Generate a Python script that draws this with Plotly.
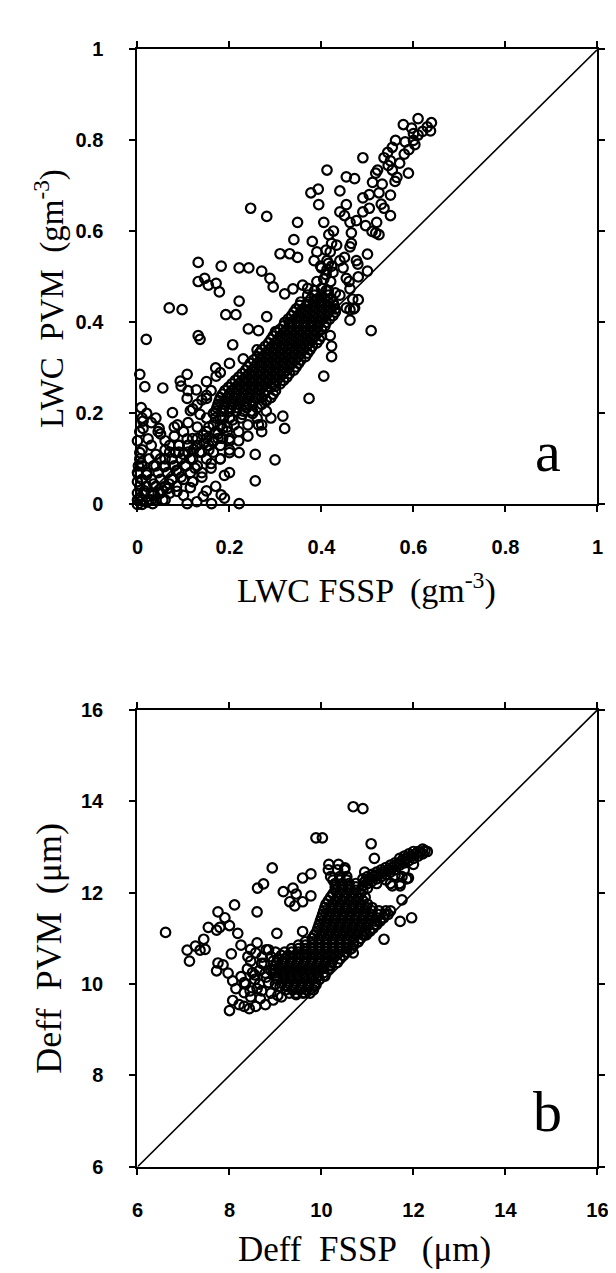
import plotly.graph_objects as go

W, H = 616, 1273

# ---------------- panel a : LWC (g m-3) ----------------
# dense core, one row per y level (two interleaved lattices)
a_core_y = [0.46, 0.445, 0.43, 0.415, 0.40, 0.385, 0.37, 0.355, 0.34, 0.325, 0.31,
            0.295, 0.28, 0.265, 0.25, 0.235, 0.22, 0.205, 0.19, 0.175, 0.16, 0.145,
            0.13, 0.115, 0.10, 0.085, 0.07, 0.055, 0.04, 0.025, 0.01,
            0.4525, 0.4375, 0.4225, 0.4075, 0.3925, 0.3775, 0.3625, 0.3475, 0.3325,
            0.3175, 0.3025, 0.2875, 0.2725, 0.2575, 0.2425, 0.2275, 0.2125]
a_core_x = [
    [0.37, 0.385, 0.40, 0.415],
    [0.355, 0.37, 0.385, 0.40, 0.415, 0.425],
    [0.345, 0.36, 0.375, 0.39, 0.405, 0.42, 0.43],
    [0.335, 0.35, 0.365, 0.38, 0.395, 0.41, 0.425],
    [0.32, 0.335, 0.35, 0.365, 0.38, 0.395, 0.41],
    [0.31, 0.325, 0.34, 0.355, 0.37, 0.385, 0.40],
    [0.295, 0.31, 0.325, 0.34, 0.355, 0.37, 0.385, 0.40],
    [0.285, 0.30, 0.315, 0.33, 0.345, 0.36, 0.375, 0.39],
    [0.27, 0.285, 0.30, 0.315, 0.33, 0.345, 0.36, 0.375],
    [0.26, 0.275, 0.29, 0.305, 0.32, 0.335, 0.35, 0.365],
    [0.245, 0.26, 0.275, 0.29, 0.305, 0.32, 0.335, 0.35],
    [0.235, 0.25, 0.265, 0.28, 0.295, 0.31, 0.325, 0.34],
    [0.22, 0.235, 0.25, 0.265, 0.28, 0.295, 0.31, 0.325],
    [0.205, 0.22, 0.235, 0.25, 0.265, 0.28, 0.295, 0.31],
    [0.19, 0.205, 0.22, 0.235, 0.25, 0.265, 0.28, 0.30],
    [0.18, 0.195, 0.21, 0.225, 0.24, 0.255, 0.27, 0.29],
    [0.175, 0.19, 0.205, 0.22, 0.235, 0.25, 0.27],
    [0.17, 0.185, 0.20, 0.215, 0.23, 0.25, 0.28],
    [0.17, 0.185, 0.20, 0.225, 0.26, 0.29],
    [0.165, 0.18, 0.21, 0.24, 0.27],
    [0.15, 0.17, 0.195, 0.22],
    [0.13, 0.15, 0.175, 0.20],
    [0.09, 0.11, 0.13, 0.155, 0.18],
    [0.07, 0.09, 0.11, 0.14, 0.165],
    [0.05, 0.075, 0.095, 0.12, 0.15],
    [0.035, 0.06, 0.08, 0.105, 0.13],
    [0.02, 0.045, 0.065, 0.09, 0.115],
    [0.01, 0.03, 0.05, 0.075, 0.10],
    [0.005, 0.02, 0.04, 0.06, 0.085],
    [0.0, 0.015, 0.03, 0.05, 0.07],
    [0.0, 0.01, 0.025, 0.04, 0.06],
    [0.3775, 0.3925, 0.4075, 0.42],
    [0.3525, 0.3675, 0.3825, 0.3975, 0.4125, 0.4275],
    [0.34, 0.355, 0.37, 0.385, 0.40, 0.415, 0.43],
    [0.3275, 0.3425, 0.3575, 0.3725, 0.3875, 0.4025, 0.4175],
    [0.3175, 0.3325, 0.3475, 0.3625, 0.3775, 0.3925, 0.4075],
    [0.3025, 0.3175, 0.3325, 0.3475, 0.3625, 0.3775, 0.3925],
    [0.29, 0.305, 0.32, 0.335, 0.35, 0.365, 0.38, 0.395],
    [0.2775, 0.2925, 0.3075, 0.3225, 0.3375, 0.3525, 0.3675, 0.38],
    [0.265, 0.28, 0.295, 0.31, 0.325, 0.34, 0.355, 0.37],
    [0.2525, 0.2675, 0.2825, 0.2975, 0.3125, 0.3275, 0.3425, 0.355],
    [0.24, 0.255, 0.27, 0.285, 0.30, 0.315, 0.33, 0.345],
    [0.2275, 0.2425, 0.2575, 0.2725, 0.2875, 0.3025, 0.3175, 0.33],
    [0.2125, 0.2275, 0.2425, 0.2575, 0.2725, 0.2875, 0.3025, 0.3175],
    [0.1975, 0.2125, 0.2275, 0.2425, 0.2575, 0.2725, 0.29],
    [0.185, 0.20, 0.215, 0.23, 0.245, 0.26, 0.275, 0.295],
    [0.1775, 0.1925, 0.2075, 0.2225, 0.2375, 0.2525, 0.28],
    [0.1725, 0.1875, 0.2025, 0.2175, 0.2375, 0.26],
]
# scattered points around the core
a_pts_x = [0.639, 0.610, 0.578, 0.596, 0.637, 0.610, 0.603, 0.582, 0.561, 0.554, 0.544,
           0.536, 0.522, 0.518, 0.532, 0.511, 0.525, 0.504, 0.490, 0.554, 0.589, 0.564,
           0.536, 0.550, 0.504, 0.490, 0.476, 0.496, 0.518, 0.525, 0.465, 0.462, 0.450,
           0.440, 0.454, 0.440, 0.454, 0.472, 0.490, 0.412, 0.377, 0.393, 0.394, 0.405,
           0.380, 0.416, 0.426, 0.422, 0.433, 0.410, 0.419, 0.390, 0.384, 0.412, 0.398,
           0.412, 0.422, 0.440, 0.450, 0.462, 0.465, 0.447, 0.454, 0.476, 0.479, 0.500,
           0.462, 0.468, 0.454, 0.462, 0.472, 0.462, 0.508, 0.348, 0.340, 0.310, 0.331,
           0.348, 0.246, 0.281, 0.132, 0.182, 0.221, 0.242, 0.270, 0.288, 0.132, 0.146,
           0.154, 0.171, 0.178, 0.295, 0.320, 0.338, 0.359, 0.221, 0.192, 0.214, 0.281,
           0.069, 0.097, 0.019, 0.132, 0.136, 0.207, 0.241, 0.263, 0.005, 0.016, 0.055,
           0.093, 0.108, 0.008, 0.012, 0.040, 0.012, 0.005, 0.008, 0.001, 0.023, 0.047,
           0.076, 0.087, 0.108, 0.115, 0.128, 0.136, 0.150, 0.171, 0.058, 0.083, 0.108,
           0.122, 0.143, 0.164, 0.185, 0.207, 0.228, 0.200, 0.221, 0.189, 0.256, 0.256,
           0.299, 0.373, 0.405, 0.422, 0.422, 0.419, 0.320, 0.316, 0.270, 0.263, 0.047,
           0.083, 0.108, 0.129, 0.143, 0.161, 0.182, 0.189, 0.193, 0.221, 0.115, 0.086,
           0.069, 0.033, 0.005, 0.002, 0.010, 0.000, 0.005, 0.010, 0.020, 0.030, 0.045,
           0.060, 0.030, 0.040, 0.060, 0.080, 0.090, 0.035, 0.055, 0.100, 0.120, 0.140,
           0.160, 0.180, 0.200, 0.110, 0.130, 0.150, 0.170, 0.095, 0.155,
           # near the origin and lower tail
           0.000, 0.010, 0.020, 0.005, 0.015, 0.030, 0.000, 0.000, 0.010, 0.020, 0.035,
           0.045, 0.055, 0.065, 0.075, 0.085, 0.095, 0.105, 0.115, 0.125, 0.135, 0.145,
           0.155, 0.165, 0.175, 0.185, 0.195, 0.060, 0.070, 0.050, 0.080, 0.100, 0.120,
           0.025, 0.040, 0.100, 0.110, 0.130, 0.150, 0.165, 0.180, 0.120, 0.140, 0.160,
           0.180, 0.200, 0.220, 0.240, 0.200, 0.170, 0.150,
           # upper streak and cap above the core
           0.470, 0.480, 0.460, 0.480, 0.500, 0.510, 0.520, 0.530, 0.550, 0.560, 0.570,
           0.580, 0.590, 0.600, 0.620, 0.630, 0.550, 0.545, 0.600, 0.370, 0.385, 0.400,
           0.415, 0.430, 0.390, 0.405, 0.420, 0.410, 0.425, 0.400, 0.415,
           # flanks of the band
           0.120, 0.140, 0.160, 0.110, 0.150, 0.180, 0.200, 0.230, 0.260, 0.300, 0.330,
           0.360, 0.390, 0.410, 0.440, 0.300, 0.280, 0.250]
a_pts_y = [0.839, 0.848, 0.835, 0.827, 0.821, 0.812, 0.791, 0.797, 0.800, 0.785, 0.774,
           0.762, 0.735, 0.728, 0.704, 0.708, 0.685, 0.681, 0.762, 0.735, 0.728, 0.719,
           0.651, 0.635, 0.651, 0.643, 0.624, 0.613, 0.597, 0.593, 0.597, 0.620, 0.635,
           0.643, 0.659, 0.689, 0.720, 0.716, 0.674, 0.735, 0.685, 0.693, 0.659, 0.620,
           0.578, 0.593, 0.601, 0.574, 0.570, 0.559, 0.555, 0.555, 0.536, 0.536, 0.524,
           0.516, 0.524, 0.536, 0.543, 0.566, 0.574, 0.520, 0.497, 0.536, 0.528, 0.513,
           0.474, 0.451, 0.432, 0.428, 0.432, 0.405, 0.382, 0.620, 0.582, 0.551, 0.551,
           0.543, 0.651, 0.633, 0.532, 0.524, 0.520, 0.520, 0.513, 0.497, 0.490, 0.497,
           0.482, 0.486, 0.467, 0.478, 0.463, 0.474, 0.482, 0.447, 0.417, 0.417, 0.413,
           0.432, 0.428, 0.363, 0.371, 0.363, 0.351, 0.386, 0.382, 0.286, 0.259, 0.256,
           0.271, 0.286, 0.213, 0.183, 0.190, 0.167, 0.114, 0.091, 0.068, 0.144, 0.167,
           0.202, 0.175, 0.233, 0.206, 0.252, 0.198, 0.233, 0.282, 0.083, 0.114, 0.144,
           0.121, 0.152, 0.137, 0.167, 0.186, 0.198, 0.114, 0.114, 0.064, 0.110, 0.052,
           0.098, 0.233, 0.282, 0.325, 0.348, 0.371, 0.167, 0.194, 0.160, 0.175, -0.002,
           -0.002, 0.002, 0.006, 0.018, 0.002, 0.021, 0.014, -0.002, 0.002, 0.037, 0.029,
           0.045, 0.002, 0.100, 0.085, 0.120, 0.140, 0.160, 0.190, 0.200, 0.180, 0.160,
           0.140, 0.130, 0.110, 0.120, 0.150, 0.130, 0.020, 0.030, 0.020, 0.050, 0.070,
           0.090, 0.100, 0.140, 0.250, 0.220, 0.240, 0.300, 0.260, 0.170,
           0.000, 0.000, 0.005, 0.015, 0.030, 0.010, 0.050, 0.070, 0.085, 0.065, 0.045,
           0.025, 0.010, 0.035, 0.055, 0.075, 0.060, 0.085, 0.100, 0.080, 0.115, 0.135,
           0.120, 0.140, 0.155, 0.145, 0.170, 0.100, 0.130, 0.155, 0.170, 0.160, 0.145,
           0.100, 0.085, 0.110, 0.130, 0.170, 0.190, 0.200, 0.190, 0.050, 0.060, 0.080,
           0.100, 0.120, 0.140, 0.150, 0.070, 0.040, 0.030,
           0.430, 0.450, 0.490, 0.500, 0.550, 0.600, 0.620, 0.660, 0.680, 0.710, 0.750,
           0.770, 0.780, 0.800, 0.820, 0.830, 0.755, 0.745, 0.815, 0.475, 0.470, 0.475,
           0.470, 0.465, 0.490, 0.495, 0.490, 0.505, 0.510, 0.520, 0.530,
           0.210, 0.230, 0.250, 0.180, 0.270, 0.290, 0.310, 0.320, 0.340, 0.380, 0.400,
           0.420, 0.450, 0.470, 0.460, 0.260, 0.230, 0.200]
a_line = [0, 1]

# ---------------- panel b : Deff (um) ----------------
b_core_y = [9.8, 9.95, 10.1, 10.25, 10.4, 10.55, 10.7, 10.85, 11.0, 11.15, 11.3, 11.45,
            11.6, 11.75, 11.9, 12.05, 12.2, 12.35, 12.5,
            9.875, 10.025, 10.175, 10.325, 10.475, 10.625, 10.775, 10.925, 11.075, 11.225,
            11.375, 11.525, 11.675, 11.825, 11.975, 12.125, 12.275]
b_core_x = [
    [9.3, 9.45, 9.6, 9.75],
    [9.1, 9.25, 9.4, 9.55, 9.7, 9.85],
    [9.05, 9.2, 9.35, 9.5, 9.65, 9.8, 9.95],
    [9.0, 9.15, 9.3, 9.45, 9.6, 9.75, 9.9, 10.05],
    [9.0, 9.15, 9.3, 9.45, 9.6, 9.75, 9.9, 10.05, 10.2],
    [9.05, 9.2, 9.35, 9.5, 9.65, 9.8, 9.95, 10.1, 10.25, 10.4],
    [9.2, 9.35, 9.5, 9.65, 9.8, 9.95, 10.1, 10.25, 10.4, 10.55],
    [9.5, 9.65, 9.8, 9.95, 10.1, 10.25, 10.4, 10.55, 10.7],
    [9.8, 9.95, 10.1, 10.25, 10.4, 10.55, 10.7, 10.85],
    [9.9, 10.05, 10.2, 10.35, 10.5, 10.65, 10.8, 10.95, 11.05],
    [9.95, 10.1, 10.25, 10.4, 10.55, 10.7, 10.85, 11.0, 11.15, 11.2],
    [10.0, 10.15, 10.3, 10.45, 10.6, 10.75, 10.9, 11.05, 11.2, 11.35],
    [10.05, 10.2, 10.35, 10.5, 10.65, 10.8, 10.95, 11.1, 11.25, 11.4, 11.5],
    [10.1, 10.25, 10.4, 10.55, 10.7, 10.85, 11.0],
    [10.2, 10.35, 10.5, 10.65, 10.8, 10.95],
    [10.3, 10.45, 10.6, 10.75, 10.9],
    [10.3, 10.45, 10.6, 10.75],
    [10.2, 10.4, 10.55],
    [10.15, 10.35, 10.5],
    [9.225, 9.375, 9.525, 9.675, 9.825],
    [9.125, 9.275, 9.425, 9.575, 9.725, 9.875],
    [9.025, 9.175, 9.325, 9.475, 9.625, 9.775, 9.925, 10.075],
    [9.0, 9.1, 9.25, 9.4, 9.55, 9.7, 9.85, 10.0, 10.15],
    [9.025, 9.175, 9.325, 9.475, 9.625, 9.775, 9.925, 10.075, 10.225, 10.35],
    [9.125, 9.275, 9.425, 9.575, 9.725, 9.875, 10.025, 10.175, 10.325, 10.475],
    [9.35, 9.5, 9.65, 9.8, 9.95, 10.1, 10.25, 10.4, 10.55, 10.65],
    [9.65, 9.8, 9.95, 10.1, 10.25, 10.4, 10.55, 10.7, 10.8],
    [9.85, 10.0, 10.15, 10.3, 10.45, 10.6, 10.75, 10.9, 10.975],
    [9.925, 10.075, 10.225, 10.375, 10.525, 10.675, 10.825, 10.975, 11.125],
    [9.975, 10.125, 10.275, 10.425, 10.575, 10.725, 10.875, 11.025, 11.175, 11.275],
    [10.025, 10.175, 10.325, 10.475, 10.625, 10.775, 10.925, 11.075, 11.225, 11.375, 11.45],
    [10.075, 10.225, 10.375, 10.525, 10.675, 10.825, 10.975, 11.1],
    [10.15, 10.3, 10.45, 10.6, 10.75, 10.9],
    [10.25, 10.4, 10.55, 10.7, 10.85],
    [10.3, 10.45, 10.6, 10.75],
    [10.25, 10.4, 10.55],
]
# upper branch running towards (12.3, 12.95)
b_branch_x = [10.9, 10.9, 11.0, 11.0, 11.1, 11.1, 11.2, 11.2, 11.3, 11.3, 11.4, 11.4,
              11.5, 11.5, 11.6, 11.6, 11.7, 11.7, 11.8, 11.8, 11.9, 11.9, 12.0, 12.0,
              12.1, 12.1, 12.2, 12.2, 12.3, 11.5, 11.7, 11.85, 11.75,
              10.95, 11.05, 11.15, 11.25, 11.35, 11.45, 11.55, 11.65, 11.75, 11.85, 11.95,
              12.05, 12.15, 12.25, 11.0, 11.2, 11.4, 11.6, 11.8, 12.0]
b_branch_y = [12.15, 12.3, 12.2, 12.35, 12.25, 12.4, 12.3, 12.45, 12.35, 12.5, 12.4, 12.55,
              12.45, 12.6, 12.5, 12.65, 12.6, 12.75, 12.65, 12.8, 12.7, 12.85, 12.75, 12.9,
              12.8, 12.9, 12.85, 12.95, 12.9, 12.2, 12.2, 12.3, 12.35,
              12.25, 12.3, 12.35, 12.4, 12.45, 12.5, 12.55, 12.62, 12.7, 12.75, 12.8,
              12.85, 12.88, 12.92, 12.1, 12.2, 12.28, 12.38, 12.5, 12.62]
b_pts_x = [6.61, 7.08, 7.13, 7.26, 7.36, 7.47, 7.44, 7.54, 7.72, 7.79, 7.75, 7.90, 8.00,
           8.11, 8.18, 8.25, 8.04, 7.75, 7.72, 7.86, 7.97, 8.07, 8.14, 8.07, 8.00, 8.21,
           8.32, 8.43, 8.57, 8.78, 8.67, 8.46, 8.32, 8.32, 8.25, 8.39, 8.46, 8.57, 8.46,
           8.71, 8.78, 8.85, 8.60, 8.61, 8.74, 8.93, 9.03, 9.17, 9.38, 9.31, 9.42, 9.45,
           9.59, 9.59, 9.77, 9.77, 9.59, 9.88, 10.02, 10.69, 10.90, 11.08, 11.15, 10.94,
           10.16, 10.37, 10.51, 11.36, 11.71, 11.96, 11.75, 11.89, 11.71, 11.54, 10.69,
           10.19, 9.13, 9.45, 9.63, 9.88, 8.90, 8.95, 8.60, 8.70, 8.80, 8.55, 8.65,
           8.90, 8.95, 9.00, 8.85, 8.75, 8.65, 8.55, 8.60, 8.70, 8.90, 9.00, 8.80, 8.50,
           8.40, 8.35, 8.45, 8.95, 9.05]
b_pts_y = [11.13, 10.74, 10.50, 10.83, 10.74, 10.76, 10.98, 11.24, 11.18, 11.24, 11.58,
           11.45, 11.28, 11.73, 11.11, 10.85, 10.66, 10.46, 10.29, 10.42, 10.24, 10.07,
           9.90, 9.64, 9.42, 9.55, 9.51, 9.46, 9.51, 9.55, 9.68, 9.72, 9.81, 10.03, 10.16,
           10.33, 10.50, 10.68, 10.76, 10.59, 10.24, 10.03, 11.58, 12.10, 12.19, 12.54,
           11.11, 12.02, 12.10, 11.80, 11.71, 11.97, 11.80, 12.32, 12.41, 11.93, 11.15,
           13.20, 13.20, 13.88, 13.84, 13.07, 12.75, 12.45, 12.62, 12.62, 12.54, 10.98,
           11.37, 11.45, 11.84, 12.32, 12.15, 12.15, 10.68, 10.42, 9.72, 9.77, 9.81, 9.98,
           10.60, 10.30, 10.90, 10.45, 10.75, 10.20, 10.00,
           10.30, 10.50, 10.70, 10.75, 10.45, 10.30, 10.10, 9.90, 9.85, 9.80, 10.00, 10.15,
           10.25, 10.60, 10.00, 9.85, 9.65, 9.75]
b_line = [6, 16]

a_ticks = [0, 0.2, 0.4, 0.6, 0.8, 1]
a_ticktext = ['0', '0.2', '0.4', '0.6', '0.8', '1']
b_ticks = [6, 8, 10, 12, 14, 16]
b_ticktext = ['6', '8', '10', '12', '14', '16']


def flat(ys, xs):
    px, py = [], []
    for y, row in zip(ys, xs):
        for x in row:
            px.append(x)
            py.append(y)
    return px, py


ax_core, ay_core = flat(a_core_y, a_core_x)
bx_core, by_core = flat(b_core_y, b_core_x)

marker = dict(symbol='circle-open', size=9.5, color='black', line=dict(width=2.2, color='black'))

fig = go.Figure()
fig.add_trace(go.Scatter(x=a_line, y=a_line, mode='lines', line=dict(color='black', width=1.6),
                         xaxis='x', yaxis='y'))
fig.add_trace(go.Scatter(x=ax_core + a_pts_x, y=ay_core + a_pts_y, mode='markers', marker=marker,
                         cliponaxis=False, xaxis='x', yaxis='y'))
fig.add_trace(go.Scatter(x=b_line, y=b_line, mode='lines', line=dict(color='black', width=1.6),
                         xaxis='x2', yaxis='y2'))
fig.add_trace(go.Scatter(x=bx_core + b_branch_x + b_pts_x, y=by_core + b_branch_y + b_pts_y,
                         mode='markers', marker=marker, cliponaxis=False, xaxis='x2', yaxis='y2'))

# plot boxes in pixels: left, right, top, bottom
L, R = 127, 600
A_TOP, A_BOT = 31, 494
B_TOP, B_BOT = 703, 1168
px = lambda v: v / W
py = lambda v: 1 - v / H

tickfont = dict(family='Liberation Sans, Arial, sans-serif', size=20, color='black', weight='bold')
axis_style = dict(showline=True, linecolor='black', linewidth=2, mirror='ticks', ticks='outside',
                  ticklen=6, tickwidth=1.5, tickcolor='black', showgrid=False, zeroline=False,
                  tickfont=tickfont, fixedrange=True)
pad = '\u00a0' * 4   # push y tick labels away from the axis

fig.update_layout(
    width=W, height=H, margin=dict(l=0, r=0, t=0, b=0),
    paper_bgcolor='white', plot_bgcolor='white', showlegend=False,
    xaxis=dict(domain=[px(L), px(R)], range=[0, 1], tickvals=a_ticks, ticktext=a_ticktext,
               anchor='y', ticklabelstandoff=18, **axis_style),
    yaxis=dict(domain=[py(A_BOT), py(A_TOP)], range=[0, 1], tickvals=a_ticks,
               ticktext=[t + pad for t in a_ticktext], anchor='x', **axis_style),
    xaxis2=dict(domain=[px(L), px(R)], range=[6, 16], tickvals=b_ticks, ticktext=b_ticktext,
                anchor='y2', ticklabelstandoff=18, **axis_style),
    yaxis2=dict(domain=[py(B_BOT), py(B_TOP)], range=[6, 16], tickvals=b_ticks,
                ticktext=[t + pad for t in b_ticktext], anchor='x2', **axis_style),
)

serif = 'Liberation Serif, Times New Roman, serif'
texts = [
    ('LWC FSSP  (gm<sup>-3</sup>)', 362, 580, 0, 34),
    ('LWC  PVM  (gm<sup>-3</sup>)', 36, 285, -90, 33),
    ('Deff  FSSP   (μm)', 360, 1252, 0, 35),
    ('Deff  PVM  (μm)', 36, 946, -90, 36),
    ('a', 549, 440, 0, 58),
    ('b', 549, 1112, 0, 58),
]
for t, x, y, ang, s in texts:
    fig.add_annotation(text=t, x=px(x), y=py(y), xref='paper', yref='paper', showarrow=False,
                       textangle=ang, xanchor='center', yanchor='middle',
                       font=dict(family=serif, size=s, color='black'))

fig.write_html('out.html')
